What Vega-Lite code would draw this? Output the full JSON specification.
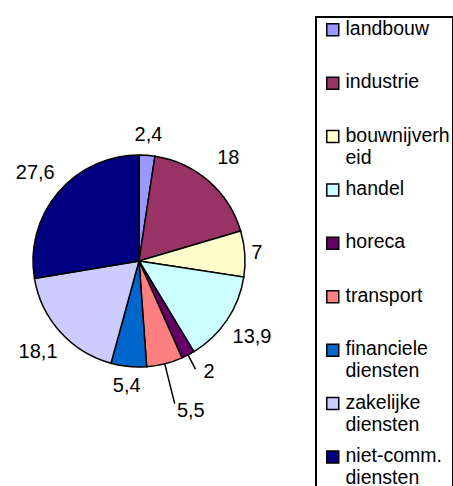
{
  "$schema": "https://vega.github.io/schema/vega-lite/v6.json",
  "width": 278,
  "height": 450,
  "autosize": {"type": "none"},
  "padding": {"left": 0, "top": 36, "right": 175, "bottom": 0},
  "background": "white",
  "config": {"view": {"stroke": null}, "font": "Liberation Sans"},
  "data": {"values": [
    {"sector": "landbouw", "value": 2.4},
    {"sector": "industrie", "value": 18},
    {"sector": "bouwnijverheid", "value": 7},
    {"sector": "handel", "value": 13.9},
    {"sector": "horeca", "value": 2},
    {"sector": "transport", "value": 5.5},
    {"sector": "financiele diensten", "value": 5.4},
    {"sector": "zakelijke diensten", "value": 18.1},
    {"sector": "niet-comm. diensten", "value": 27.6}
  ]},
  "transform": [
    {"window": [{"op": "row_number", "as": "idx"}]},
    {"window": [{"op": "sum", "field": "value", "as": "cum"}], "sort": [{"field": "idx"}], "frame": [null, 0]},
    {"calculate": "datum.cum - datum.value / 2", "as": "mid"},
    {"calculate": "replace('' + datum.value, '.', ',')", "as": "label"}
  ],
  "layer": [
    {
      "mark": {"type": "arc", "radius": 106, "stroke": "black", "strokeWidth": 1.5},
      "encoding": {
        "theta": {"field": "value", "type": "quantitative", "stack": true, "scale": {"domain": [0, 99.9], "nice": false, "zero": true}},
        "order": {"field": "idx", "type": "quantitative"},
        "color": {
          "field": "sector", "type": "nominal",
          "scale": {
            "domain": ["landbouw", "industrie", "bouwnijverheid", "handel", "horeca", "transport", "financiele diensten", "zakelijke diensten", "niet-comm. diensten"],
            "range": ["#9999FF", "#993366", "#FFFFCC", "#CCFFFF", "#660066", "#FF8080", "#0066CC", "#CCCCFF", "#000080"]
          },
          "legend": {
            "title": null,
            "orient": "none",
            "legendX": 316,
            "legendY": -19,
            "direction": "vertical",
            "symbolType": "square",
            "symbolSize": 144,
            "symbolStrokeColor": "black",
            "symbolStrokeWidth": 1.5,
            "symbolOpacity": 1,
            "symbolOffset": 4,
            "labelFont": "Liberation Sans",
            "labelFontSize": 19.5,
            "labelColor": "black",
            "labelOffset": 3,
            "labelLimit": 0,
            "labelBaseline": "top",
            "labelExpr": "datum.label == 'bouwnijverheid' ? ['bouwnijverh', 'eid'] : datum.label == 'financiele diensten' ? ['financiele', 'diensten'] : datum.label == 'zakelijke diensten' ? ['zakelijke', 'diensten'] : datum.label == 'niet-comm. diensten' ? ['niet-comm.', 'diensten'] : datum.label",
            "rowPadding": 10.4,
            "gridAlign": "all",
            "padding": 3,
            "strokeColor": "black",
            "encode": {
              "legend": {"update": {"strokeWidth": {"value": 2}}},
              "labels": {"update": {"lineHeight": {"value": 22}, "dy": {"value": -10}}}
            }
          }
        }
      }
    },
    {
      "transform": [{"filter": "datum.sector == 'landbouw' || datum.sector == 'financiele diensten'"}],
      "mark": {"type": "text", "radius": 126, "fontSize": 20, "color": "black"},
      "encoding": {
        "theta": {"field": "mid", "type": "quantitative", "stack": null},
        "text": {"field": "label"}
      }
    },
    {
      "transform": [{"filter": "datum.sector == 'industrie' || datum.sector == 'handel' || datum.sector == 'zakelijke diensten' || datum.sector == 'niet-comm. diensten'"}],
      "mark": {"type": "text", "radius": 136, "fontSize": 20, "color": "black"},
      "encoding": {
        "theta": {"field": "mid", "type": "quantitative", "stack": null},
        "text": {"field": "label"}
      }
    },
    {
      "transform": [{"filter": "datum.sector == 'bouwnijverheid'"}],
      "mark": {"type": "text", "radius": 118, "fontSize": 20, "color": "black"},
      "encoding": {
        "theta": {"field": "mid", "type": "quantitative", "stack": null},
        "text": {"field": "label"}
      }
    },
    {
      "transform": [{"filter": "datum.sector == 'horeca'"}],
      "mark": {"type": "text", "radius": 124, "fontSize": 20, "color": "black", "align": "left", "dx": 7, "dy": 1},
      "encoding": {
        "theta": {"field": "mid", "type": "quantitative", "stack": null},
        "text": {"field": "label"}
      }
    },
    {
      "transform": [{"filter": "datum.sector == 'transport'"}],
      "mark": {"type": "text", "radius": 148, "fontSize": 20, "color": "black", "align": "left", "dx": 2, "dy": 6},
      "encoding": {
        "theta": {"field": "mid", "type": "quantitative", "stack": null},
        "text": {"field": "label"}
      }
    },
    {
      "transform": [{"filter": "datum.sector == 'horeca'"}],
      "mark": {"type": "arc", "radius": 122, "radius2": 106, "fill": null, "stroke": "black", "strokeWidth": 1.5},
      "encoding": {
        "theta": {"field": "mid", "type": "quantitative", "stack": null},
        "theta2": {"field": "mid"}
      }
    },
    {
      "transform": [{"filter": "datum.sector == 'transport'"}],
      "mark": {"type": "arc", "radius": 147, "radius2": 106, "fill": null, "stroke": "black", "strokeWidth": 1.5},
      "encoding": {
        "theta": {"field": "mid", "type": "quantitative", "stack": null},
        "theta2": {"field": "mid"}
      }
    }
  ]
}
